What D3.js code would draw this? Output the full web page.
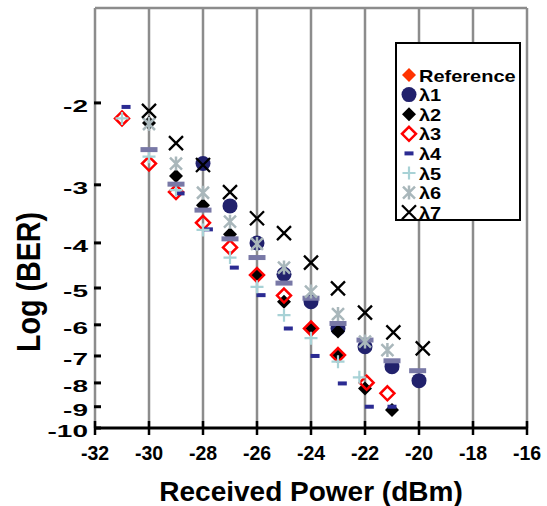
<!DOCTYPE html>
<html>
<head>
<meta charset="utf-8">
<script src="https://cdn.jsdelivr.net/npm/d3@7"></script>
<style>
  body { margin: 0; background: #fff; }
  text { font-family: "Liberation Sans", Arial, sans-serif; font-weight: bold; fill: #000; }
</style>
</head>
<body>
<svg id="graphic-svg" width="547" height="506"></svg>
<script>
var svg = d3.select("#graphic-svg");
var margin = { left: 95, right: 20, top: 8, bottom: 78 };
var w = 547 - margin.left - margin.right, h = 506 - margin.top - margin.bottom;

// Data (received power in dBm, log of BER)
var power_l1 = [-28, -27, -26, -25, -24, -23, -22, -21, -20];
var ber_l1   = [-2.70, -3.33, -4.00, -4.67, -5.35, -6.11, -6.69, -7.38, -7.91];
var power_l2 = [-30, -29, -28, -27, -26, -25, -24, -23, -23, -22, -21];
var ber_l2   = [-2.21, -2.87, -3.32, -3.83, -4.69, -5.35, -6.11, -6.20, -7.02, -8.22, -9.15];
var power_l3 = [-31, -30, -29, -28, -27, -26, -25, -24, -23, -21.94, -21.17];
var ber_l3   = [-2.16, -2.70, -3.11, -3.62, -4.09, -4.69, -5.19, -6.11, -6.97, -7.99, -8.42];
var power_l4 = [-30.85, -28.85, -27.8, -26.84, -25.85, -24.84, -23.85, -22.84, -21.84, -21.0];
var ber_l4   = [-2.04, -3.13, -3.74, -4.52, -5.18, -6.11, -7.00, -8.02, -9.00, -9.00];
var power_l5 = [-31, -30, -29, -28, -27, -26, -25, -24, -23, -22.21];
var ber_l5   = [-2.16, -2.61, -3.08, -3.75, -4.30, -4.97, -5.72, -6.41, -7.20, -7.78];
var power_l6 = [-30, -29, -28, -27, -26, -25, -24, -23, -22, -21.17];
var ber_l6   = [-2.22, -2.70, -3.12, -3.60, -4.02, -4.52, -5.09, -5.69, -6.52, -6.80];
var power_l7 = [-30, -29, -28, -27, -26, -25, -24, -23, -22, -20.95, -19.86];
var ber_l7   = [-2.08, -2.44, -2.72, -3.11, -3.54, -3.81, -4.41, -5.01, -5.65, -6.23, -6.74];
// extra series (its legend entry is cut off by the legend box)
var power_l8 = [-30, -29, -28, -27, -26, -25, -24, -23, -22, -21, -20.05];
var ber_l8   = [-2.52, -2.99, -3.40, -3.92, -4.30, -4.88, -5.26, -5.96, -6.47, -7.17, -7.53];

var legendNames = ["Reference", "λ1", "λ2", "λ3", "λ4", "λ5", "λ6", "λ7"];
var legendMarks = ["refDiamond", "circle", "diamond", "openDiamond", "dash", "plus", "star", "cross"];
var xTicks = [-32, -30, -28, -26, -24, -22, -20, -18, -16];
var yTicks = [-2, -3, -4, -5, -6, -7, -8, -9, -10];

// Colors
var gridGray = "#8c8c8c";
var navy = "#21216c";
var dashBlue = "#2b2b92";
var lavender = "#7878a6";
var plusBlue = "#a8d2d6";
var starGray = "#a9b7bb";
var red = "#ff0000";
var refOrange = "#ff3300";

// Scales: the y axis is spaced by log(-log BER)
var xScale = d3.scaleLinear().domain([-32, -16]).range([0, w]);
var yScale = d3.scaleLog().domain([1.25, 10]).range([0, h]);
function yPos(v) { return yScale(-v); }

var g = svg.append("g").attr("transform", "translate(" + margin.left + "," + margin.top + ")");

// Grid and frame
g.selectAll(".grid")
  .data(xTicks)
  .enter().append("line")
  .attr("class", "grid")
  .attr("x1", function(d) { return xScale(d); })
  .attr("x2", function(d) { return xScale(d); })
  .attr("y1", 0).attr("y2", h)
  .style("stroke", gridGray).style("stroke-width", 2.5);
g.append("line")
  .attr("x1", 0).attr("x2", w).attr("y1", 0).attr("y2", 0)
  .style("stroke", gridGray).style("stroke-width", 2.5);

// X axis
var xAxis = g.append("g").attr("transform", "translate(0," + h + ")");
xAxis.append("line")
  .attr("x1", 0).attr("x2", w)
  .style("stroke", "#000").style("stroke-width", 3);
xAxis.selectAll(".xtick")
  .data(xTicks)
  .enter().append("line")
  .attr("x1", function(d) { return xScale(d); })
  .attr("x2", function(d) { return xScale(d); })
  .attr("y1", -7).attr("y2", 7)
  .style("stroke", "#000").style("stroke-width", 2.5);
xAxis.selectAll(".xlabel")
  .data(xTicks)
  .enter().append("text")
  .attr("x", function(d) { return xScale(d); })
  .attr("y", 32)
  .style("font-size", "19.5px")
  .style("text-anchor", "middle")
  .text(function(d) { return d; });

// Y axis
var yAxis = g.append("g");
yAxis.selectAll(".ytick")
  .data(yTicks)
  .enter().append("line")
  .attr("x1", -1).attr("x2", 6)
  .attr("y1", function(d) { return yPos(d); })
  .attr("y2", function(d) { return yPos(d); })
  .style("stroke", "#000").style("stroke-width", 3);
yAxis.selectAll(".ylabel")
  .data(yTicks)
  .enter().append("text")
  .attr("transform", function(d) { return "translate(-7," + (yPos(d) + 9) + ") scale(1,0.6)"; })
  .style("font-size", "28px")
  .style("text-anchor", "end")
  .text(function(d) { return d; });

// Axis titles
svg.append("text")
  .attr("x", margin.left + w / 2)
  .attr("y", 501)
  .style("font-size", "28px")
  .style("text-anchor", "middle")
  .text("Received Power (dBm)");
svg.append("text")
  .attr("transform", "translate(40,282) rotate(-90)")
  .attr("textLength", 140)
  .attr("lengthAdjust", "spacingAndGlyphs")
  .style("font-size", "34px")
  .style("text-anchor", "middle")
  .text("Log (BER)");

// Marker drawing
function drawMark(sel, type) {
  if (type === "circle") {
    sel.append("circle").attr("r", 7.5).style("fill", navy);
  } else if (type === "diamond") {
    sel.append("path").attr("d", "M0,-7L7,0L0,7L-7,0Z").style("fill", "#000");
  } else if (type === "refDiamond") {
    sel.append("path").attr("d", "M0,-7L7,0L0,7L-7,0Z").style("fill", refOrange);
  } else if (type === "openDiamond") {
    sel.append("path").attr("d", "M0,-7L7,0L0,7L-7,0Z")
      .style("fill", "none").style("stroke", red).style("stroke-width", 2.5);
  } else if (type === "dash") {
    sel.append("rect").attr("x", -4.5).attr("y", -2).attr("width", 9).attr("height", 4).style("fill", dashBlue);
  } else if (type === "bar") {
    sel.append("rect").attr("x", -8.5).attr("y", -2.5).attr("width", 17).attr("height", 5).style("fill", lavender);
  } else if (type === "plus") {
    sel.append("path").attr("d", "M-6.5,0H6.5M0,-6.5V6.5")
      .style("stroke", plusBlue).style("stroke-width", 2.2);
  } else if (type === "star") {
    sel.append("path").attr("d", "M-6,-6L6,6M-6,6L6,-6M0,-7V7")
      .style("stroke", starGray).style("stroke-width", 2.5);
  } else if (type === "cross") {
    sel.append("path").attr("d", "M-7,-7L7,7M-7,7L7,-7")
      .style("stroke", "#000").style("stroke-width", 2.3);
  }
}

var series = [
  { mark: "circle", x: power_l1, y: ber_l1 },
  { mark: "diamond", x: power_l2, y: ber_l2 },
  { mark: "openDiamond", x: power_l3, y: ber_l3 },
  { mark: "dash", x: power_l4, y: ber_l4 },
  { mark: "plus", x: power_l5, y: ber_l5 },
  { mark: "bar", x: power_l8, y: ber_l8 },
  { mark: "star", x: power_l6, y: ber_l6 },
  { mark: "cross", x: power_l7, y: ber_l7 }
];

series.forEach(function(s) {
  var pts = s.x.map(function(d, i) { return { x: d, y: s.y[i] }; });
  g.append("g").selectAll(".pt")
    .data(pts)
    .enter().append("g")
    .attr("transform", function(d) { return "translate(" + xScale(d.x) + "," + yPos(d.y) + ")"; })
    .each(function() { drawMark(d3.select(this), s.mark); });
});

// Legend (box clips the last entry)
var legBox = { x: 396, y: 43, w: 124, h: 177 };
svg.append("clipPath").attr("id", "legClip")
  .append("rect").attr("x", legBox.x).attr("y", legBox.y).attr("width", legBox.w).attr("height", legBox.h);
svg.append("rect")
  .attr("x", legBox.x).attr("y", legBox.y).attr("width", legBox.w).attr("height", legBox.h)
  .style("fill", "#fff");
var leg = svg.append("g").attr("clip-path", "url(#legClip)");
legendNames.forEach(function(name, i) {
  var row = leg.append("g").attr("transform", "translate(409," + (75 + i * 19.6) + ")");
  drawMark(row.append("g"), legendMarks[i]);
  row.append("text")
    .attr("transform", "translate(10,6.5) scale(1,0.85)")
    .style("font-size", "20px")
    .text(name);
});
svg.append("rect")
  .attr("x", legBox.x).attr("y", legBox.y).attr("width", legBox.w).attr("height", legBox.h)
  .style("fill", "none").style("stroke", "#000").style("stroke-width", 2);
</script>
</body>
</html>
